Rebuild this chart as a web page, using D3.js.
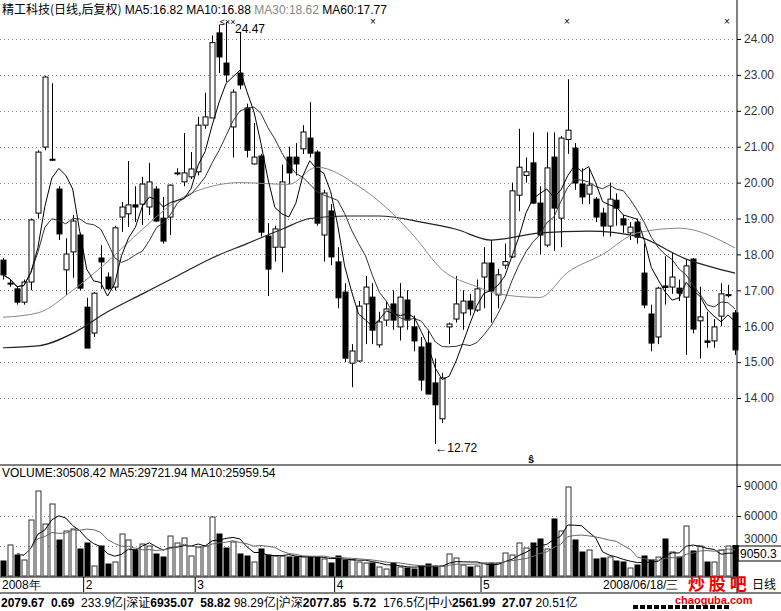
<!DOCTYPE html>
<html><head><meta charset="utf-8">
<script src="https://cdn.jsdelivr.net/npm/d3@7"></script>
<style>body{margin:0;background:#fff}svg{display:block;font-family:"Liberation Sans",Arial,sans-serif}</style>
</head><body><svg id="c" width="781" height="611"></svg>
<script>
// OHLC (106 trading days, Jan–Jun 2008)
const opens  = [17.84,17.2,17.04,16.67,17.23,19.15,20.99,20.65,19.82,17.57,18.07,18.54,16.53,15.81,17.9,17.37,17.09,19.04,19.13,19.38,19.4,19.32,19.82,19.01,19.04,20.27,20.02,20.16,20.3,21.6,21.8,24.17,23.33,21.55,23.05,22.08,20.52,20.74,18.51,18.2,18.2,20.71,20.71,20.94,21.24,20.85,18.54,19.21,17.79,16.95,14.97,15.03,16.62,16.81,15.48,16.17,16.62,15.98,16.73,15.98,15.42,15.53,14.42,13.42,15.98,16.2,16.37,16.7,16.45,17.37,17.76,16.87,17.7,17.93,19.65,20.2,20.55,19.43,18.26,20.71,19.01,21.2,20.96,19.96,19.68,19.54,19.15,18.79,19.51,18.99,18.6,18.9,17.48,16.34,15.7,17.12,17.09,17.06,16.81,17.87,16.15,15.59,15.59,16.28,16.85,16.37];
const closes = [17.43,17.2,16.67,17.23,18.96,20.85,22.94,20.65,18.57,18.01,18.93,17.06,15.39,16.92,17.79,17.04,18.74,19.32,19.38,19.32,19.96,20.02,18.93,18.37,19.93,20.27,20.27,20.38,21.6,21.83,23.9,23.5,23.0,22.52,22.72,20.9,20.71,18.62,17.59,18.71,20.02,20.27,20.52,21.41,20.82,18.87,19.71,17.93,16.79,15.11,15.31,16.56,17.09,15.89,16.12,16.48,16.17,16.81,16.17,15.59,14.5,14.11,13.81,14.56,16.06,16.62,16.7,16.48,17.04,17.76,16.98,17.43,17.8,19.77,20.43,20.3,19.43,18.54,20.41,19.29,21.24,21.46,19.99,19.6,19.93,19.04,18.79,19.54,19.29,18.82,18.76,18.48,16.59,15.53,17.06,17.08,17.37,16.92,17.68,15.92,16.26,15.55,15.98,16.9,16.88,15.34];
const highs  = [17.9,17.3,17.1,17.3,19.0,20.9,22.98,22.77,19.9,18.45,19.1,18.6,16.79,16.95,18.26,17.5,18.8,19.46,20.6,19.9,20.16,20.55,19.9,19.6,19.95,20.4,21.38,20.85,21.83,22.5,24.1,24.4,24.47,22.6,24.2,22.2,21.66,20.8,18.87,18.8,20.5,21.0,21.1,21.6,22.24,20.9,19.8,19.4,18.2,17.2,15.5,16.7,17.4,17.2,16.4,16.7,17.0,17.2,17.0,16.3,15.7,15.9,15.1,14.7,16.1,17.4,17.0,16.9,17.3,18.2,18.4,17.6,18.3,20.0,21.5,20.7,21.4,19.9,21.4,21.4,21.3,22.88,21.1,20.4,20.4,19.6,19.3,20.0,19.7,19.1,18.9,19.0,18.3,16.6,17.1,17.95,18.05,17.3,17.85,17.9,17.1,16.4,16.2,17.2,17.15,16.45];
const lows   = [17.3,17.1,16.6,16.6,17.0,19.0,20.9,20.6,18.4,16.87,17.35,17.0,15.39,15.7,17.04,17.0,17.0,18.63,18.76,18.9,18.82,19.1,18.9,18.3,18.54,20.2,19.9,20.1,20.2,21.5,21.8,23.05,22.8,20.7,22.6,20.7,20.5,18.5,16.84,17.8,17.5,19.96,20.2,20.8,20.7,18.8,17.8,17.7,16.5,15.0,14.3,15.0,15.5,15.5,15.4,16.0,15.9,15.6,15.9,15.3,14.2,14.1,12.72,13.3,15.5,16.1,15.9,16.3,16.4,16.5,16.1,16.5,17.6,17.9,19.2,20.0,19.4,18.0,18.2,18.1,18.2,20.8,19.8,19.4,19.4,18.9,18.5,18.5,18.8,18.6,18.4,18.3,16.5,15.3,15.5,16.6,16.9,16.7,15.2,15.8,15.1,15.4,15.4,16.0,16.8,15.2];
const volumes = [15,31,21,16,56,85,52,72,36,45,47,27,33,10,30,12,14,42,36,26,32,30,22,19,40,33,38,20,29,30,59,42,28,34,22,20,14,27,21,20,20,19,19,19,19,19,17,13,20,16,16,14,13,13,9,7,13,9,8,7,10,12,10,10,22,18,11,9,10,13,13,13,23,21,33,28,33,37,27,57,45,89,36,24,26,17,18,19,15,14,8,11,20,16,19,37,24,19,50,25,30,14,14,26,30,30.5].map(v=>v*1000);
// moving-average readings (index, value)
const ma30Pts = [[0,16.25],[5,16.37],[10,17.0],[15,17.8],[20,18.7],[25,19.5],[30,19.9],[34,20.0],[41,19.95],[45,20.43],[51,19.9],[55,19.3],[59,18.5],[63,17.57],[68,17.1],[71,16.9],[77,16.8],[81,17.5],[86,18.0],[91,18.6],[97,18.73],[105,18.18]];
const ma60Pts = [[0,15.4],[5,15.45],[10,15.8],[15,16.4],[20,16.9],[25,17.4],[30,17.9],[35,18.3],[40,18.7],[44,19.0],[49,19.07],[54,19.07],[60,18.9],[65,18.7],[70,18.4],[77,18.6],[84,18.65],[91,18.5],[98,17.87],[105,17.48]];
const priceTicks = [14,15,16,17,18,19,20,21,22,23,24];
const volTicks = [30000,60000,90000];
const monthLabels = [["2008年",0],["2",12],["3",28],["4",48],["5",69]];

const svg = d3.select("#c");
const N = closes.length;
const x = d3.scaleLinear().domain([0,N-1]).range([3,735]);
const y = d3.scaleLinear().domain([14,24]).range([398,39]);
const yv = d3.scaleLinear().domain([0,90000]).range([576,486]);
const W=737, cw=5;

function ma(arr,n){return arr.map((_,i)=>{const s=arr.slice(Math.max(0,i-n+1),i+1);return d3.mean(s);});}
const ma5 = ma(closes,5), ma10 = ma(closes,10);
const vma5 = ma(volumes,5), vma10 = ma(volumes,10);

svg.append("line").attr("x1",W).attr("x2",W).attr("y1",0).attr("y2",593).attr("stroke","#000");
svg.append("line").attr("x1",0).attr("x2",781).attr("y1",465).attr("y2",465).attr("stroke","#000");
svg.append("line").attr("x1",0).attr("x2",W).attr("y1",577).attr("y2",577).attr("stroke","#000");
svg.append("line").attr("x1",0).attr("x2",781).attr("y1",593).attr("y2",593).attr("stroke","#000");

svg.append("g").selectAll("line").data(priceTicks).join("line")
 .attr("x1",0).attr("x2",W).attr("y1",d=>Math.round(y(d))+.5).attr("y2",d=>Math.round(y(d))+.5)
 .attr("stroke","#888").attr("stroke-dasharray","1,3");
svg.append("g").selectAll("line").data([30000,60000]).join("line")
 .attr("x1",0).attr("x2",W).attr("y1",d=>Math.round(yv(d))+.5).attr("y2",d=>Math.round(yv(d))+.5)
 .attr("stroke","#888").attr("stroke-dasharray","1,3");

const ay = d3.axisRight(y).tickValues(priceTicks).tickFormat(d3.format(".2f")).tickSize(4);
const gA = svg.append("g").attr("transform",`translate(${W},0)`).call(ay);
gA.select(".domain").remove();
gA.selectAll("text").attr("font-size",12).attr("fill","#333");
const av = d3.axisRight(yv).tickValues(volTicks).tickFormat(d3.format("d")).tickSize(4);
const gV = svg.append("g").attr("transform",`translate(${W},0)`).call(av);
gV.select(".domain").remove();
gV.selectAll("text").attr("font-size",12).attr("fill","#333").attr("dy",(d)=>d===30000?"-0.3em":"0.32em");
svg.append("rect").attr("x",W+1).attr("y",546).attr("width",44).attr("height",15).attr("fill","#fff").attr("stroke","#000");
svg.append("text").attr("x",W+3).attr("y",558).attr("font-size",12).text("9050.3");

const g = svg.append("g");
d3.range(N).forEach(i=>{
  const up = closes[i]>=opens[i], cx=Math.round(x(i))+.5;
  const top=y(Math.max(opens[i],closes[i])), bot=y(Math.min(opens[i],closes[i]));
  g.append("line").attr("x1",cx).attr("x2",cx).attr("y1",y(highs[i])).attr("y2",top).attr("stroke","#000");
  g.append("line").attr("x1",cx).attr("x2",cx).attr("y1",bot).attr("y2",y(lows[i])).attr("stroke","#000");
  g.append("rect").attr("x",cx-2.5).attr("y",top).attr("width",cw).attr("height",Math.max(1,bot-top))
   .attr("fill",up?"#fff":"#000").attr("stroke","#000").attr("stroke-width",1);
  const vt=yv(volumes[i]);
  g.append("rect").attr("x",cx-2.5).attr("y",vt).attr("width",cw).attr("height",576-vt)
   .attr("fill",up?"#fff":"#000").attr("stroke",up?"#333":"#000");
});

const line = d3.line().x((d,i)=>x(i)).y(d=>y(d));
const lineP = d3.line().x(d=>x(d[0])).y(d=>y(d[1])).curve(d3.curveMonotoneX);
svg.append("path").attr("d",lineP(ma60Pts)).attr("fill","none").attr("stroke","#222").attr("stroke-width",1.2);
svg.append("path").attr("d",lineP(ma30Pts)).attr("fill","none").attr("stroke","#888");
svg.append("path").attr("d",line(ma10)).attr("fill","none").attr("stroke","#333");
svg.append("path").attr("d",line(ma5)).attr("fill","none").attr("stroke","#000");
const lineV = d3.line().x((d,i)=>x(i)).y(d=>yv(d));
svg.append("path").attr("d",lineV(vma5.slice(2))).attr("transform",`translate(${x(2)-x(0)},0)`).attr("fill","none").attr("stroke","#000");
svg.append("path").attr("d",lineV(vma10.slice(2))).attr("transform",`translate(${x(2)-x(0)},0)`).attr("fill","none").attr("stroke","#666");

svg.append("text").attr("x",235).attr("y",33).attr("font-size",12).text("24.47");
svg.append("text").attr("x",220).attr("y",25).attr("font-size",9).text("≤××");
svg.append("text").attr("x",x(62)).attr("y",452).attr("font-size",12).text("←12.72");
[[373,"×"],[567,"×"],[727,"×"]].forEach(d=>svg.append("text").attr("x",d[0]).attr("y",25).attr("font-size",10).attr("text-anchor","middle").text(d[1]));
svg.append("text").attr("x",531).attr("y",463).attr("font-size",11).attr("font-weight","bold").attr("text-anchor","middle").text("ŝ");

const h = svg.append("text").attr("x",2).attr("y",14).attr("font-size",12);
h.append("tspan").attr("font-family","Noto Sans CJK SC").text("精工科技(日线,后复权)");
h.append("tspan").text(" MA5:16.82  MA10:16.88 ");
h.append("tspan").attr("fill","#888").text("MA30:18.62 ");
h.append("tspan").text(" MA60:17.77");
svg.append("text").attr("x",2).attr("y",477).attr("font-size",12).text("VOLUME:30508.42  MA5:29721.94  MA10:25959.54");

svg.append("g").selectAll("text").data(monthLabels).join("text")
 .attr("x",d=>x(d[1])-1).attr("y",589).attr("font-size",12).text(d=>d[0]);
svg.append("g").selectAll("line").data(monthLabels.slice(1)).join("line")
 .attr("x1",d=>x(d[1])-3).attr("x2",d=>x(d[1])-3).attr("y1",577).attr("y2",592).attr("stroke","#000");
svg.append("text").attr("x",603).attr("y",589).attr("font-size",12).text("2008/06/18/三");
svg.append("text").attr("x",752).attr("y",589).attr("font-size",12).attr("font-family","Noto Sans CJK SC").text("日线");
svg.append("text").attr("x",688).attr("y",590).attr("font-size",17).attr("font-weight","bold").attr("fill","#e00").attr("font-family","Noto Sans CJK SC").text("炒 股 吧");
svg.append("text").attr("x",675).attr("y",604).attr("font-size",11).attr("font-weight","bold").attr("fill","#e00").text("chaoguba.com");

const s = svg.append("text").attr("x",1).attr("y",607).attr("font-size",12).attr("font-family","Liberation Sans, Noto Sans CJK SC");
[["2079.67",1],["  0.69 ",1],[" 233.9亿|深证",0],["6935.07",1],["  58.82",1],[" 98.29亿|沪深",0],["2077.85",1],["  5.72",1],["  176.5亿|中小",0],["2561.99",1],["  27.07",1],[" 20.51亿",0]]
 .forEach(d=>s.append("tspan").attr("font-weight",d[1]?"bold":"normal").attr("xml:space","preserve").text(d[0]));
for(let k=0;k<14;k++){svg.append("rect").attr("x",633+k*7).attr("y",605).attr("width",5).attr("height",4).attr("fill","#000");}
</script></body></html>
